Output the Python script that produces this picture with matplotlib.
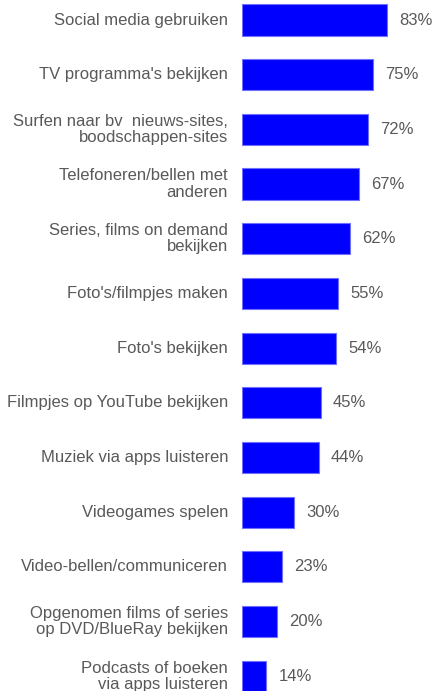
import matplotlib.pyplot as plt

labels = ["Social media gebruiken",
          "TV programma's bekijken",
          "Surfen naar bv  nieuws-sites,\nboodschappen-sites",
          "Telefoneren/bellen met\nanderen",
          "Series, films on demand\nbekijken",
          "Foto's/filmpjes maken",
          "Foto's bekijken",
          "Filmpjes op YouTube bekijken",
          "Muziek via apps luisteren",
          "Videogames spelen",
          "Video-bellen/communiceren",
          "Opgenomen films of series\nop DVD/BlueRay bekijken",
          "Podcasts of boeken\nvia apps luisteren"]
values = [83, 75, 72, 67, 62, 55, 54, 45, 44, 30, 23, 20, 14]

plt.rcParams['font.family'] = ['Liberation Sans', 'DejaVu Sans']
txt = '#595959'

fig = plt.figure(figsize=(4.34, 6.91), dpi=100)
ax = fig.add_axes([242/434, 0, 1 - 242/434, 1])

pos = list(range(len(values)))
ax.barh(pos, values, height=0.57, color='#0000ff', edgecolor='#7070ff', linewidth=0.8)

for i, v in enumerate(values):
    ax.text(v + 6.8, i, f'{v}%', va='center', ha='left', fontsize=12, color=txt)
    ax.text(-8, i, labels[i], va='center', ha='right', fontsize=12, color=txt,
            linespacing=1.1, clip_on=False)

ax.set_xlim(0, 109.9)
ax.set_ylim(12.27, -0.366)
ax.axis('off')

plt.savefig('out.png')
